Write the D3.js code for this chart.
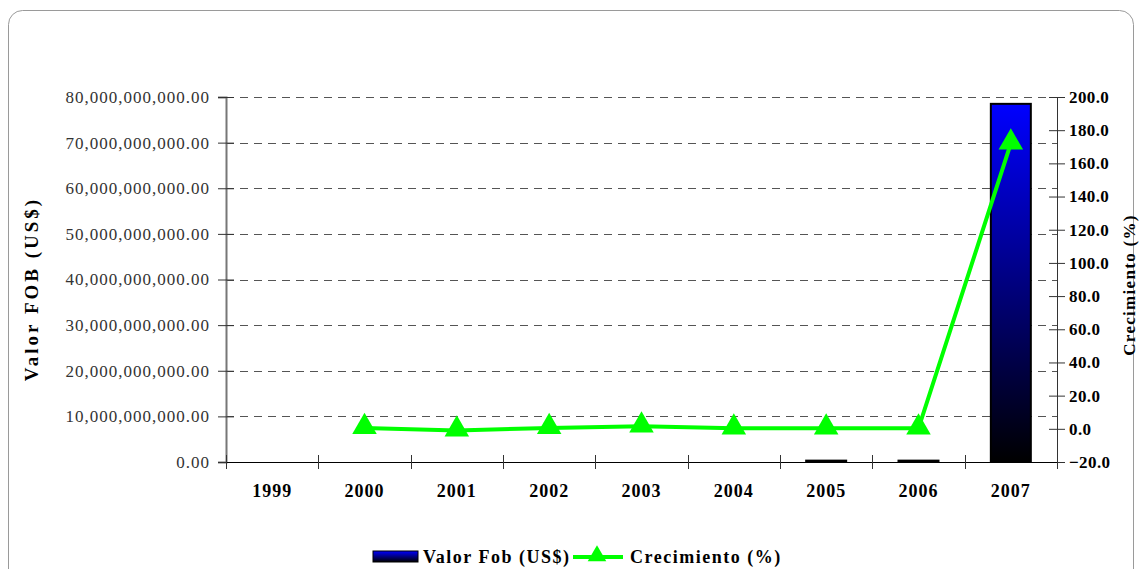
<!DOCTYPE html>
<html>
<head>
<meta charset="utf-8">
<script src="https://cdn.jsdelivr.net/npm/d3@7"></script>
<style>
  body { margin: 0; background: #fff; }
  svg text { font-family: "Liberation Serif", "DejaVu Serif", serif; }
</style>
</head>
<body>
<script>
// data
var years = ['1999', '2000', '2001', '2002', '2003', '2004', '2005', '2006', '2007'];
var valorFob = [0, 0, 0, 0, 0, 0, 300000000, 300000000, 78500000000];
var crecimiento = [null, 0.5, -1.0, 0.5, 1.5, 0.3, 0.3, 0.3, 172.0];
var leftTicks = [0, 1e10, 2e10, 3e10, 4e10, 5e10, 6e10, 7e10, 8e10];
var rightTicks = [-20, 0, 20, 40, 60, 80, 100, 120, 140, 160, 180, 200];

var W = 1140, H = 569;
var margin = {top: 97, right: 83, bottom: 107, left: 226},
    width = W - margin.left - margin.right,
    height = H - margin.top - margin.bottom;

var svg = d3.select("body").append("svg")
    .attr("width", W)
    .attr("height", H);

// frame
svg.append("rect")
    .attr("x", 8.5).attr("y", 10.5)
    .attr("width", 1125).attr("height", 580)
    .attr("rx", 14).attr("ry", 14)
    .attr("fill", "none")
    .attr("stroke", "#9a9a9a")
    .attr("stroke-width", 1);

var defs = svg.append("defs");
var grad = defs.append("linearGradient")
    .attr("id", "barGrad")
    .attr("x1", 0).attr("y1", 0).attr("x2", 0).attr("y2", 1);
grad.append("stop").attr("offset", "0%").attr("stop-color", "#0000ff");
grad.append("stop").attr("offset", "100%").attr("stop-color", "#000000");

var g = svg.append("g")
    .attr("transform", "translate(" + margin.left + "," + margin.top + ")");

// scales
var x = d3.scaleBand().domain(years).range([0, width]).paddingInner(0).paddingOuter(0);
var y = d3.scaleLinear().domain([0, 8e10]).range([height, 0]);
var y2 = d3.scaleLinear().domain([-20, 200]).range([height, 0]);
var barW = 40;

// gridlines
g.selectAll(".grid")
    .data(leftTicks.slice(1))
  .enter().append("line")
    .attr("class", "grid")
    .attr("x1", 0).attr("x2", width)
    .attr("y1", function(d) { return Math.round(y(d)) + 0.5; })
    .attr("y2", function(d) { return Math.round(y(d)) + 0.5; })
    .attr("stroke", "#555")
    .attr("stroke-dasharray", "8,6");

// bars
g.selectAll(".bar")
    .data(years.map(function(d, i) { return {year: d, v: valorFob[i]}; }).filter(function(d) { return d.v > 0; }))
  .enter().append("rect")
    .attr("class", "bar")
    .attr("x", function(d) { return x(d.year) + x.bandwidth() / 2 - barW / 2; })
    .attr("y", function(d) { return y(d.v); })
    .attr("width", barW)
    .attr("height", function(d) { return height - y(d.v); })
    .attr("fill", "url(#barGrad)")
    .attr("stroke", "#000")
    .attr("stroke-width", 2);

// left axis
var left = g.append("g")
    .call(d3.axisLeft(y).tickValues(leftTicks).tickSize(8)
      .tickFormat(function(d) { return d3.format(",.2f")(d); }));
left.select(".domain").attr("stroke", "#777").attr("stroke-width", 2);
left.selectAll(".tick line").attr("x2", 8).attr("x1", -8).attr("stroke", "#333");
left.selectAll(".tick text").attr("x", -16)
    .style("font-size", "17px").style("letter-spacing", "1px").attr("fill", "#333");

// right axis
var right = g.append("g")
    .attr("transform", "translate(" + width + ",0)")
    .call(d3.axisRight(y2).tickValues(rightTicks).tickSize(8)
      .tickFormat(d3.format(".1f")));
right.select(".domain").attr("stroke", "#333");
right.selectAll(".tick line").attr("x1", -8).attr("x2", 8).attr("stroke", "#333");
right.selectAll(".tick text").attr("x", 12)
    .style("font-size", "17px").style("font-weight", "bold").style("letter-spacing", "0.4px")
    .attr("fill", "#000");

// bottom axis
var bottom = g.append("g")
    .attr("transform", "translate(0," + height + ")")
    .call(d3.axisBottom(x).tickSize(0));
bottom.select(".domain").attr("stroke", "#000");
bottom.selectAll(".tick text").attr("dy", "1.75em")
    .style("font-size", "18px").style("font-weight", "bold").style("letter-spacing", "1px")
    .attr("fill", "#000");
bottom.selectAll(".sep")
    .data(years.concat(["end"]))
  .enter().append("line")
    .attr("class", "sep")
    .attr("x1", function(d, i) { return Math.round(i * x.bandwidth()) + 0.5; })
    .attr("x2", function(d, i) { return Math.round(i * x.bandwidth()) + 0.5; })
    .attr("y1", -7).attr("y2", 7)
    .attr("stroke", "#333");

// growth line
var pts = years.map(function(d, i) { return {year: d, v: crecimiento[i]}; })
    .filter(function(d) { return d.v !== null; });
var line = d3.line()
    .x(function(d) { return x(d.year) + x.bandwidth() / 2; })
    .y(function(d) { return y2(d.v); });
g.append("path")
    .datum(pts)
    .attr("d", line)
    .attr("fill", "none")
    .attr("stroke", "#00ff00")
    .attr("stroke-width", 4);
var tri = d3.symbol().type(d3.symbolTriangle).size(260);
g.selectAll(".mk")
    .data(pts)
  .enter().append("path")
    .attr("class", "mk")
    .attr("d", tri)
    .attr("transform", function(d) {
      return "translate(" + (x(d.year) + x.bandwidth() / 2) + "," + (y2(d.v) - 1) + ")";
    })
    .attr("fill", "#00ff00");

// axis titles
svg.append("text")
    .attr("transform", "translate(38,289) rotate(-90)")
    .attr("text-anchor", "middle")
    .style("font-size", "19px").style("font-weight", "bold").style("letter-spacing", "3px")
    .text("Valor FOB (US$)");
svg.append("text")
    .attr("transform", "translate(1135,285) rotate(-90)")
    .attr("text-anchor", "middle")
    .style("font-size", "17px").style("font-weight", "bold").style("letter-spacing", "1.3px")
    .text("Crecimiento (%)");

// legend
var lg = svg.append("g").attr("transform", "translate(373,557)");
lg.append("rect")
    .attr("x", 0).attr("y", -6).attr("width", 45).attr("height", 11)
    .attr("fill", "url(#barGrad)").attr("stroke", "#000");
lg.append("text").attr("x", 50).attr("y", 6)
    .style("font-size", "18px").style("font-weight", "bold").style("letter-spacing", "1.5px")
    .text("Valor Fob (US$)");
lg.append("line").attr("x1", 200).attr("x2", 250).attr("y1", 0).attr("y2", 0)
    .attr("stroke", "#00ff00").attr("stroke-width", 4);
lg.append("path").attr("d", d3.symbol().type(d3.symbolTriangle).size(150))
    .attr("transform", "translate(224,-1)")
    .attr("fill", "#00ff00");
lg.append("text").attr("x", 257).attr("y", 6)
    .style("font-size", "18px").style("font-weight", "bold").style("letter-spacing", "1.5px")
    .text("Crecimiento (%)");
</script>
</body>
</html>
